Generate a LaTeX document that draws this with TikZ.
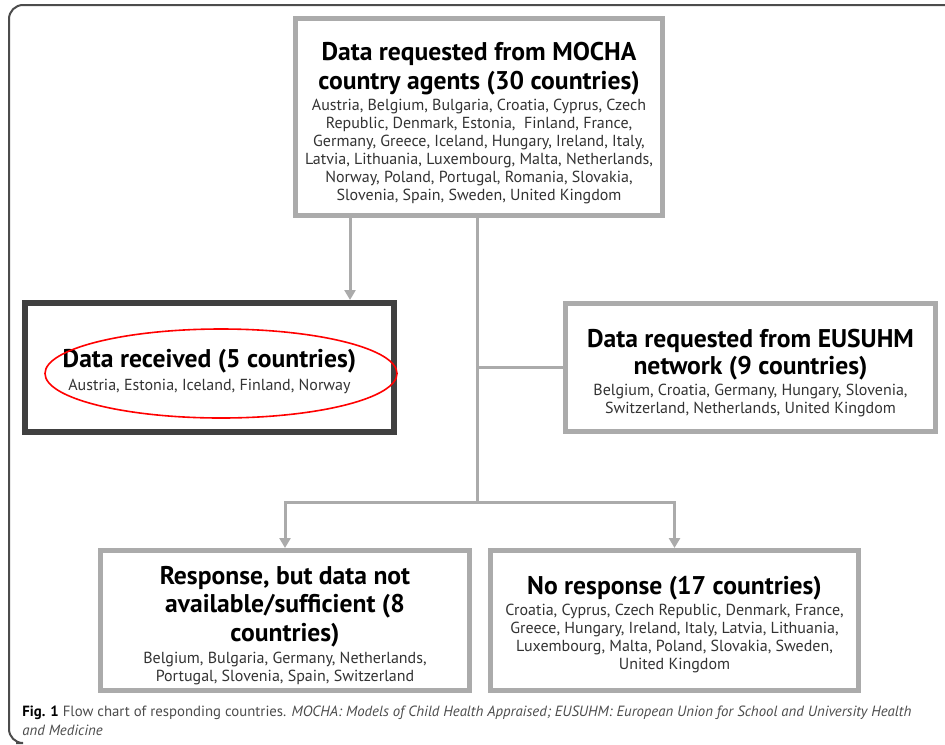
\documentclass[tikz,border=0pt]{standalone}
\usepackage{fontspec}
\setmainfont{PT Sans}
\usetikzlibrary{arrows.meta, positioning, calc}
\definecolor{boxGray}{gray}{0.67}
\definecolor{recvBlack}{gray}{0.25}
\definecolor{subGray}{gray}{0.2}
\definecolor{frameGray}{gray}{0.3}
\definecolor{capGray}{gray}{0.3}
\newcommand{\boxtitle}{\bfseries\fontsize{12.8}{9}\selectfont\color{black}}
\newcommand{\topgap}[1]{\rule{0pt}{#1}}

\begin{document}
\begin{tikzpicture}[x=0.5pt, y=-0.5pt, >={Triangle[length=5pt, width=5.5pt]},
    flowbox/.style={draw=boxGray, line width=2.5pt, fill=white, align=center, inner sep=0pt,
        text=subGray, font={\fontsize{8}{9}\selectfont\lineskiplimit=-20pt}},
    recvbox/.style={flowbox, draw=recvBlack, line width=3pt},
    flow/.style={boxGray, line width=1.5pt}]
    \useasboundingbox (0,0) rectangle (945,744);
    % frame of the figure
    \draw[frameGray, line width=1pt, rounded corners=7pt] (945,5) -- (9,5) -- (9,743) -- (16,743);

    \node[flowbox, minimum width=183.5pt, minimum height=98.5pt] (mocha) at (479,117)
        {\topgap{15.6pt}\boxtitle Data requested from MOCHA\\[5.5pt]
         \boxtitle country agents (30 countries)\\[1.5pt]
         Austria, Belgium, Bulgaria, Croatia, Cyprus, Czech\\
         Republic, Denmark, Estonia,\ \ Finland, France,\\
         Germany, Greece, Iceland, Hungary, Ireland, Italy,\\
         Latvia, Lithuania, Luxembourg, Malta, Netherlands,\\
         Norway, Poland, Portugal, Romania, Slovakia,\\
         Slovenia, Spain, Sweden, United Kingdom};
    \node[recvbox, minimum width=184.5pt, minimum height=64.5pt] (received) at (209.5,367.5)
        {\topgap{13.4pt}\boxtitle Data received (5 countries)\\[2.5pt]
         Austria, Estonia, Iceland, Finland, Norway};
    \node[flowbox, minimum width=185pt, minimum height=64pt] (eusuhm) at (750.5,367.5)
        {\topgap{14.8pt}\boxtitle Data requested from EUSUHM\\[4.5pt]
         \boxtitle network (9 countries)\\[1.5pt]
         Belgium, Croatia, Germany, Hungary, Slovenia,\\
         Switzerland, Netherlands, United Kingdom};
    \node[flowbox, minimum width=184.5pt, minimum height=70pt] (partial) at (285,620.5)
        {\topgap{13.8pt}\boxtitle Response, but data not\\[5pt]
         \boxtitle available/sufficient (8\\[5.5pt]
         \boxtitle countries)\\[2pt]
         Belgium, Bulgaria, Germany, Netherlands,\\
         Portugal, Slovenia, Spain, Switzerland};
    \node[flowbox, minimum width=184pt, minimum height=70pt] (noresp) at (674.5,620.5)
        {\topgap{13.4pt}\boxtitle No response (17 countries)\\[1.5pt]
         Croatia, Cyprus, Czech Republic, Denmark, France,\\
         Greece, Hungary, Ireland, Italy, Latvia, Lithuania,\\
         Luxembourg, Malta, Poland, Slovakia, Sweden,\\
         United Kingdom};

    \coordinate (leftdrop) at (350,0);
    \coordinate (trunk) at (477,0);
    \coordinate (fork) at (477,502);
    \draw[flow, ->] (mocha.south -| leftdrop) -- (received.north -| leftdrop);
    \draw[flow] (mocha.south -| trunk) -- (fork);
    \draw[flow] (trunk |- eusuhm.west) -- (eusuhm.west);
    \draw[flow, ->] (fork) -| (partial.north);
    \draw[flow, ->] (fork) -| (noresp.north);

    % highlight
    \draw[red, line width=0.8pt] (221,373.5) ellipse [x radius=88pt, y radius=22.25pt];

    \node[anchor=north west, align=left, inner sep=0pt, text=capGray,
          font=\fontsize{7.4}{9.5}\selectfont] (caption) at (22,706)
        {\textbf{\color{black}Fig. 1} Flow chart of responding countries. \textit{MOCHA: Models of Child Health Appraised; EUSUHM: European Union for School and University Health}\\
         \textit{and Medicine}};
\end{tikzpicture}
\end{document}
